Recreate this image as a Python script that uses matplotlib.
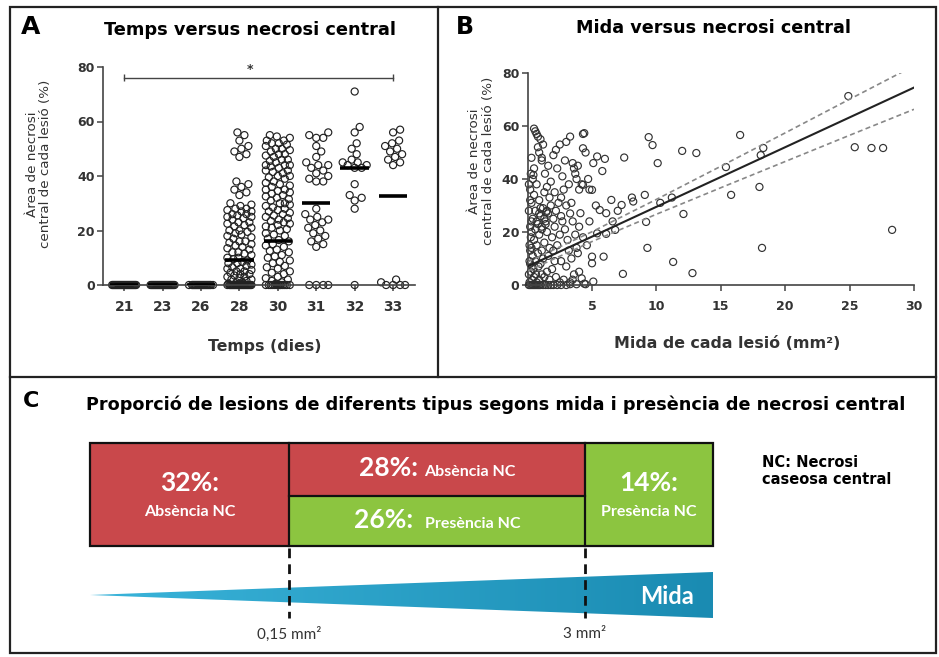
import numpy as np
import matplotlib
matplotlib.use("Agg")
import matplotlib.pyplot as plt
from matplotlib.patches import Rectangle, Polygon
from matplotlib.colors import LinearSegmentedColormap

# ================= DATA =================
# ---- Panel A: necrosis area (%) per lesion, by day ----
days = ["21", "23", "26", "28", "30", "31", "32", "33"]
necrosis_d21 = [0, 0, 0, 0, 0, 0, 0, 0, 0, 0, 0, 0, 0, 0, 0, 0, 0, 0, 0, 0,
                0, 0, 0, 0, 0]
necrosis_d23 = [0, 0, 0, 0, 0, 0, 0, 0, 0, 0, 0, 0, 0, 0, 0, 0, 0, 0, 0, 0,
                0, 0, 0, 0, 0]
necrosis_d26 = [0, 0, 0, 0, 0, 0, 0, 0, 0, 0, 0, 0, 0, 0, 0, 0, 0, 0, 0, 0,
                0, 0]
necrosis_d28 = [56, 55, 53, 51, 50, 49, 48, 47, 38, 37, 36, 35, 34, 33,
                30, 29, 28, 28, 27, 27, 26, 26, 25, 25, 24, 23, 23, 22, 21, 20,
                20, 19, 18, 17, 16, 16, 15, 14, 13, 12, 12, 11, 10, 10, 9, 8,
                8, 7, 6, 6, 5, 5, 4, 4, 3, 3, 2, 2, 1, 1,
                29.5, 27.5, 25.5, 24.5, 22.5, 21.5, 19.5, 18.5, 17.5, 15.5,
                14.5, 13.5, 11.5, 9.5, 8.5, 7.5, 6.5, 5.5, 4.5, 3.5, 2.5, 1.5,
                0.5, 0.5,
                0, 0, 0, 0, 0, 0, 0, 0, 0, 0, 0, 0, 0, 0, 0, 0, 0, 0, 0, 0,
                0, 0, 0, 0]
necrosis_d30 = [55, 54, 53, 53, 52, 52, 51, 50, 50, 49, 48, 48, 47, 46, 46,
                45, 44, 44, 44, 43, 42, 42, 41, 40, 40, 39, 38, 37, 36, 35,
                35, 34, 33, 32, 31, 30, 30, 29, 28, 27, 26, 25, 24, 23, 22,
                21, 20, 19, 18, 17, 16, 15, 14, 13, 12, 11, 10, 9, 8, 7, 6,
                5, 4, 3, 2, 1,
                54.5, 51.5, 49.5, 47.5, 45.5, 43.5, 41.5, 39.5, 37.5, 36.5,
                34.5, 33.5, 32.5, 31.5, 29.5, 28.5, 27.5, 26.5, 25.5, 24.5,
                23.5, 22.5, 21.5, 20.5, 18.5, 16.5, 14.5, 12.5, 10.5, 8.5,
                6.5, 4.5, 2.5, 1.5, 0.5,
                0, 0, 0, 0, 0, 0, 0, 0, 0, 0, 0, 0, 0, 0]
necrosis_d31 = [56, 55, 54, 54, 51, 49, 47, 45, 44, 44, 43, 42, 41, 40, 39,
                38, 38, 28, 26, 25, 24, 24, 23, 22, 21, 20, 19, 18, 17, 16,
                15, 14, 0, 0, 0, 0]
necrosis_d32 = [71, 58, 56, 52, 50, 48, 46, 45, 45, 44, 44, 43, 43, 37, 33,
                32, 31, 28, 0]
necrosis_d33 = [57, 56, 53, 52, 51, 50, 49, 48, 47, 46, 45, 44, 2, 1, 0, 0,
                0, 0]
group_lines = [0, 0, 0, 9, 16, 30, 43, 32.5]
sig_y = 76
sig_text = "*"

# ---- Panel B: lesion size (mm2) vs necrosis area (%) ----
size_mm2 = [
    0.1, 0.2, 0.3, 0.4, 0.5, 0.6, 0.7, 0.8, 0.9, 1.0, 1.2, 1.4, 1.6, 1.8, 2.0,
    2.3, 2.6, 3.0, 0.15, 0.35, 0.5, 0.7, 0.9, 1.1, 0.25, 0.45, 0.65, 0.85, 1.3,
    1.5, 0.2, 0.6, 1.0, 1.7, 1.9, 2.2, 2.5, 1.2, 0.4, 0.8, 2.8, 3.3, 3.6, 2.1,
    1.6,
    0.1, 0.15, 0.2, 0.25, 0.3, 0.1, 0.2, 0.3, 0.15, 0.35, 0.1, 0.25,
    0.3, 0.5, 0.7, 0.9, 1.1, 1.3, 1.5, 1.7, 1.9, 2.1, 2.3, 2.5, 2.7, 0.2, 0.4,
    0.6, 0.8, 1.0, 1.2, 1.4, 1.6, 1.8, 2.0, 2.2, 2.4, 2.6, 2.9, 3.1, 3.3, 3.5,
    3.7, 0.3, 0.5, 0.9, 1.3, 1.7, 2.1, 2.6, 3.0, 3.2, 3.4, 3.8, 4.0, 4.3, 1.1,
    1.45, 2.0,
    0.7, 0.9, 1.1, 1.3, 1.5, 0.6, 1.0, 1.4,
    0.2, 0.4, 0.5, 0.6, 0.8, 1.0, 1.2, 0.9, 1.1, 1.35, 0.45, 0.7, 1.6, 1.8,
    2.0, 2.2, 2.3, 2.5, 2.7, 2.9, 3.0, 3.3, 3.5, 3.6, 3.7, 3.8, 3.9, 3.2, 2.8,
    4.3, 4.2, 4.0, 4.5, 4.8, 1.5, 0.3,
    0.5, 0.7, 0.8, 1.1,
    5.1, 5.0, 5.0, 4.4, 4.3, 5.1, 5.0, 4.3, 4.1, 4.2, 5.6, 5.4, 5.9, 6.1, 6.1,
    6.0, 5.4, 6.5, 6.8, 7.3, 8.1, 8.2, 7.5, 7.4, 9.3, 9.2, 9.1, 9.4, 9.7,
    10.1, 11.3, 12.0, 13.1, 12.8, 12.1, 15.4, 15.8, 16.5, 18.3, 18.1, 18.0,
    18.2, 24.9, 25.4, 26.7, 27.6, 28.3, 11.2, 10.3,
    3.9, 4.6, 4.8, 5.3, 6.6, 7.0, 3.4, 3.0, 4.0, 2.6, 4.7, 5.8, 3.5, 4.4,
    3.3, 3.8, 4.5]
necrosis_pct = [
    0, 0, 0, 0, 0, 0, 0, 0, 0, 0, 0, 0, 0, 0, 0,
    0, 0, 0, 1, 2, 3, 1, 2, 4, 5, 6, 4, 7, 3,
    5, 8, 9, 8, 2, 6, 3, 1, 10, 11, 12, 2, 1, 4, 9,
    11,
    4, 9, 13, 18, 24, 28, 32, 20, 15, 7, 38, 42,
    14, 17, 15, 19, 13, 16, 20, 14, 18, 22, 15, 19, 24, 22, 25,
    28, 23, 26, 29, 24, 27, 30, 25, 28, 31, 26, 21, 17, 27, 24,
    19, 31, 34, 32, 35, 33, 35, 33, 30, 13, 10, 14, 22, 18, 21,
    27.5, 13,
    24, 27, 22, 25, 28, 21, 29, 23,
    36, 40, 44, 58, 56, 55, 53, 50, 47, 42, 41.5, 38, 45, 39,
    49, 51, 44, 53, 41, 47, 54, 56, 46, 44, 42, 40, 45, 38, 36,
    57, 38, 36, 50, 36, 37, 48,
    59, 57, 52, 48,
    1.3, 8.2, 10.7, 57.3, 51.6, 46.0, 35.9, 37.8, 27.1, 2.5, 28.3, 19.5, 10.7,
    19.3, 27.1, 47.6, 48.5, 32.1, 20.8, 30.2, 33.0, 31.5, 48.1, 4.2, 14.0,
    23.8, 34.0, 55.8, 52.8, 46.0, 8.7, 50.6, 49.8, 4.5, 26.8, 44.5, 34.0,
    56.6, 51.7, 49.0, 37.0, 14.0, 71.3, 52.0, 51.7, 51.7, 20.8, 33.0, 31.0,
    12, 15, 24, 30, 24, 28, 31, 7, 5, 9, 40, 43, 2, 0.5,
    0.3, 0.3, 0.3]
fit_slope = 2.25
fit_intercept = 7.0
band_x = [0, 5, 10, 15, 20, 25, 30]
band_upper = [8.7, 20.1, 32.3, 44.8, 57.4, 70.1, 82.7]
band_lower = [5.3, 16.4, 26.7, 36.7, 46.6, 56.5, 66.3]

# ---- Panel C: proportion of lesion types ----
c_pcts = [32, 28, 26, 14]
c_labels = ["Absència NC", "Absència NC", "Presència NC", "Presència NC"]
c_has_nc = [False, False, True, True]
c_size_class = [0, 1, 1, 2]
c_part = ["full", "top", "bottom", "full"]
size_limits = ["0,15 mm²", "3 mm²"]
size_word = "Mida"
nc_note = "NC: Necrosi\ncaseosa central"

title_a = "Temps versus necrosi central"
title_b = "Mida versus necrosi central"
title_c = ("Proporció de lesions de diferents tipus segons mida i presència "
           "de necrosi central")
ylab = "Àrea de necrosi\ncentral de cada lesió (%)"
xlab_a = "Temps (dies)"
xlab_b = "Mida de cada lesió (mm²)"

# ================= FIGURE =================
W, H = 939, 657
fig = plt.figure(figsize=(W / 100, H / 100), dpi=100, facecolor="white")
renderer = fig.canvas.get_renderer()


def fax(l, t, r, b):
    return [l / W, 1 - b / H, (r - l) / W, (b - t) / H]


def ftext(x, y, s, fit_w=None, fit_h=None, **kw):
    t = fig.text(x / W, 1 - y / H, s, **kw)
    if fit_w is not None or fit_h is not None:
        bb = t.get_window_extent(renderer)
        if fit_w is not None:
            t.set_fontsize(t.get_fontsize() * fit_w / bb.width)
        else:
            t.set_fontsize(t.get_fontsize() * fit_h / bb.height)
    return t


DARK = "#333333"
AX = "#444444"

# overlay axes (pixel coordinates) for frames and panel C
axc = fig.add_axes([0, 0, 1, 1], zorder=0)
axc.set_xlim(0, W)
axc.set_ylim(H, 0)
axc.axis("off")

# frames
axc.add_patch(Rectangle((10, 7), 926, 646, fill=False, ec="#222222", lw=1.6))
axc.plot([10, 936], [377, 377], color="#222222", lw=1.6)
axc.plot([438, 438], [7, 377], color="#222222", lw=1.6)


def style_axes(ax):
    for s in ["top", "right"]:
        ax.spines[s].set_visible(False)
    for s in ["left", "bottom"]:
        ax.spines[s].set_color(AX)
        ax.spines[s].set_linewidth(1.2)
    ax.tick_params(colors=AX, labelcolor=DARK, length=4, width=1.1,
                   labelsize=9)
    for lab in ax.get_xticklabels() + ax.get_yticklabels():
        lab.set_fontweight("bold")
    ax.patch.set_alpha(0)


# ---------- Panel A ----------
axa = fig.add_axes(fax(103, 67, 415, 285), zorder=2)
groups = [necrosis_d21, necrosis_d23, necrosis_d26, necrosis_d28,
          necrosis_d30, necrosis_d31, necrosis_d32, necrosis_d33]
px_per_cat = 312 / 8.12
px_per_unit = 218 / 80.0


def swarm_offsets(vals, dmin=7.0, step=1.0, halfmax=12.5):
    vals = np.asarray(vals, float)
    order = np.argsort(vals, kind="stable")
    cands = [0.0]
    k = 1
    while k * step <= halfmax + 1e-9:
        cands += [k * step, -k * step]
        k += 1
    placed = []
    off = np.zeros(len(vals))
    for i in order:
        y = vals[i] * px_per_unit
        best, bestd = 0.0, -1
        for c in cands:
            if placed:
                P = np.array(placed)
                d = np.sqrt((P[:, 0] - c) ** 2 + (P[:, 1] - y) ** 2).min()
            else:
                d = np.inf
            if d >= dmin:
                best = c
                break
            if d > bestd:
                bestd, best = d, c
        off[i] = best
        placed.append((best, y))
    return off / px_per_cat


for i, g in enumerate(groups):
    xo = swarm_offsets(g)
    axa.scatter(i + xo, g, s=26, facecolors="none", edgecolors="#222222",
                linewidths=0.85, clip_on=False, zorder=2)
axa.hlines(group_lines, np.arange(len(days)) - 0.37,
           np.arange(len(days)) + 0.37, color="black", lw=2.6, zorder=3)
axa.plot([0, len(days) - 1], [sig_y, sig_y], color=AX, lw=1.0, clip_on=False)
axa.vlines([0, len(days) - 1], sig_y - 1.3, sig_y + 1.3, color=AX, lw=1.0)
axa.text(3.27, sig_y + 0.8, sig_text, ha="center", va="bottom", fontsize=9,
         color=DARK, fontweight="bold")
axa.set_xlim(-0.55, 7.57)
axa.set_ylim(0, 80)
axa.set_xticks(range(len(days)))
axa.set_xticklabels(days)
axa.set_yticks([0, 20, 40, 60, 80])
style_axes(axa)
axa.tick_params(axis="x", labelsize=10, pad=7)
axa.tick_params(axis="y", pad=2)

# ---------- Panel B ----------
axb = fig.add_axes(fax(527.6, 73, 914, 285), zorder=2)
axb.scatter(size_mm2, necrosis_pct, s=26, facecolors="none",
            edgecolors="#333333", linewidths=0.85, clip_on=False, zorder=2)
fx = np.array([0.0, 30.0])
axb.plot(fx, fit_intercept + fit_slope * fx, color="#222222", lw=1.5,
         zorder=3)
axb.plot(band_x, band_upper, color="#888888", lw=1.2, ls=(0, (3, 2)),
         zorder=3)
axb.plot(band_x, band_lower, color="#888888", lw=1.2, ls=(0, (3, 2)),
         zorder=3)
axb.set_xlim(0, 30)
axb.set_ylim(0, 80)
axb.set_xticks([5, 10, 15, 20, 25, 30])
axb.set_yticks([0, 20, 40, 60, 80])
style_axes(axb)
axb.tick_params(axis="x", pad=7)
axb.tick_params(axis="y", pad=2)

# ---------- Panel texts A / B ----------
ftext(31, 27, "A", ha="center", va="center", fontsize=18, fontweight="bold")
ftext(465, 27, "B", ha="center", va="center", fontsize=17, fontweight="bold")
ftext(250, 30, title_a, fit_w=290, ha="center", va="center", fontsize=13,
      fontweight="bold")
ftext(713, 28, title_b, fit_w=273, ha="center", va="center", fontsize=13,
      fontweight="bold")
ftext(265, 347, xlab_a, fit_w=112, ha="center", va="center", fontsize=11,
      fontweight="bold", color=DARK)
ftext(727, 343, xlab_b, fit_w=225, ha="center", va="center", fontsize=11,
      fontweight="bold", color=DARK)
ftext(39, 164, ylab, fit_h=168, ha="center", va="center", rotation=90,
      fontsize=10, color=DARK, linespacing=1.1, multialignment="center")
ftext(482, 161, ylab, fit_h=168, ha="center", va="center", rotation=90,
      fontsize=10, color=DARK, linespacing=1.1, multialignment="center")

# ---------- Panel C ----------
RED = "#c9484b"
GREEN = "#8cc540"
col_x = [90, 289, 585, 713]
box_top, box_mid, box_bot = 443, 496, 546

ftext(31, 401, "C", ha="center", va="center", fontsize=16, fontweight="bold")
ftext(86, 405, title_c, fit_w=817, ha="left", va="center", fontsize=12,
      fontweight="bold")

CF = ["Lato", "DejaVu Sans"]
for pct, lab, nc, cls, part in zip(c_pcts, c_labels, c_has_nc, c_size_class,
                                   c_part):
    x0, x1 = col_x[cls], col_x[cls + 1]
    if part == "full":
        y0, y1 = box_top, box_bot
    elif part == "top":
        y0, y1 = box_top, box_mid
    else:
        y0, y1 = box_mid, box_bot
    axc.add_patch(Rectangle((x0, y0), x1 - x0, y1 - y0,
                            facecolor=GREEN if nc else RED, edgecolor="none"))
    cx = (x0 + x1) / 2
    if part == "full":
        ftext(cx, y0 + 0.39 * (y1 - y0), f"{pct}%:", ha="center", va="center",
              fontsize=19, color="white", family=CF, fontweight="bold")
        ftext(cx, y0 + 0.67 * (y1 - y0), lab, ha="center", va="center",
              fontsize=11.5, color="white", family=CF, fontweight="bold")
    else:
        base = (y0 + y1) / 2 + 7
        tb = ftext(0, base, f"{pct}%:", ha="left", va="baseline", fontsize=19,
                   color="white", family=CF, fontweight="bold")
        ts = ftext(0, base, lab, ha="left", va="baseline", fontsize=11.5,
                   color="white", family=CF, fontweight="bold")
        wb = tb.get_window_extent(renderer).width
        ws = ts.get_window_extent(renderer).width
        gap = 6 if not nc else 12
        start = cx - (wb + gap + ws) / 2
        tb.set_x(start / W)
        ts.set_x((start + wb + gap) / W)

# box outline and dividers
axc.add_patch(Rectangle((col_x[0], box_top), col_x[-1] - col_x[0],
                        box_bot - box_top, fill=False, ec="#111111", lw=1.6,
                        zorder=3))
for xx in col_x[1:-1]:
    axc.plot([xx, xx], [box_top, box_bot], color="#111111", lw=1.6, zorder=3)
axc.plot([col_x[1], col_x[2]], [box_mid, box_mid], color="#111111", lw=1.6,
         zorder=3)

# size wedge with gradient
tri = Polygon([(col_x[0], 595), (col_x[-1], 572), (col_x[-1], 618)],
              closed=True, facecolor="none", edgecolor="none")
axc.add_patch(tri)
grad = np.linspace(0, 1, 256).reshape(1, -1)
cmap = LinearSegmentedColormap.from_list("teal", ["#3ab4da", "#1a8bb2"])
im = axc.imshow(grad, extent=(col_x[0], col_x[-1], 618, 572), cmap=cmap,
                aspect="auto", zorder=1, interpolation="bilinear")
im.set_clip_path(tri)
axc.set_xlim(0, W)
axc.set_ylim(H, 0)

for xx in col_x[1:-1]:
    axc.plot([xx, xx], [548, 618], color="#111111", lw=2.0,
             ls=(0, (3.5, 2.2)), zorder=2)
for xx, lab in zip(col_x[1:-1], size_limits):
    ftext(xx, 634, lab, ha="center", va="center", fontsize=11, color=DARK,
          family=CF)
ftext(667, 597, size_word, ha="center", va="center", fontsize=17,
      color="white", family=CF, fontweight="bold")
ftext(762, 471, nc_note, ha="left", va="center", fontsize=10.5,
      fontweight="bold", linespacing=1.15)

fig.savefig("out.png", dpi=100, facecolor="white")
